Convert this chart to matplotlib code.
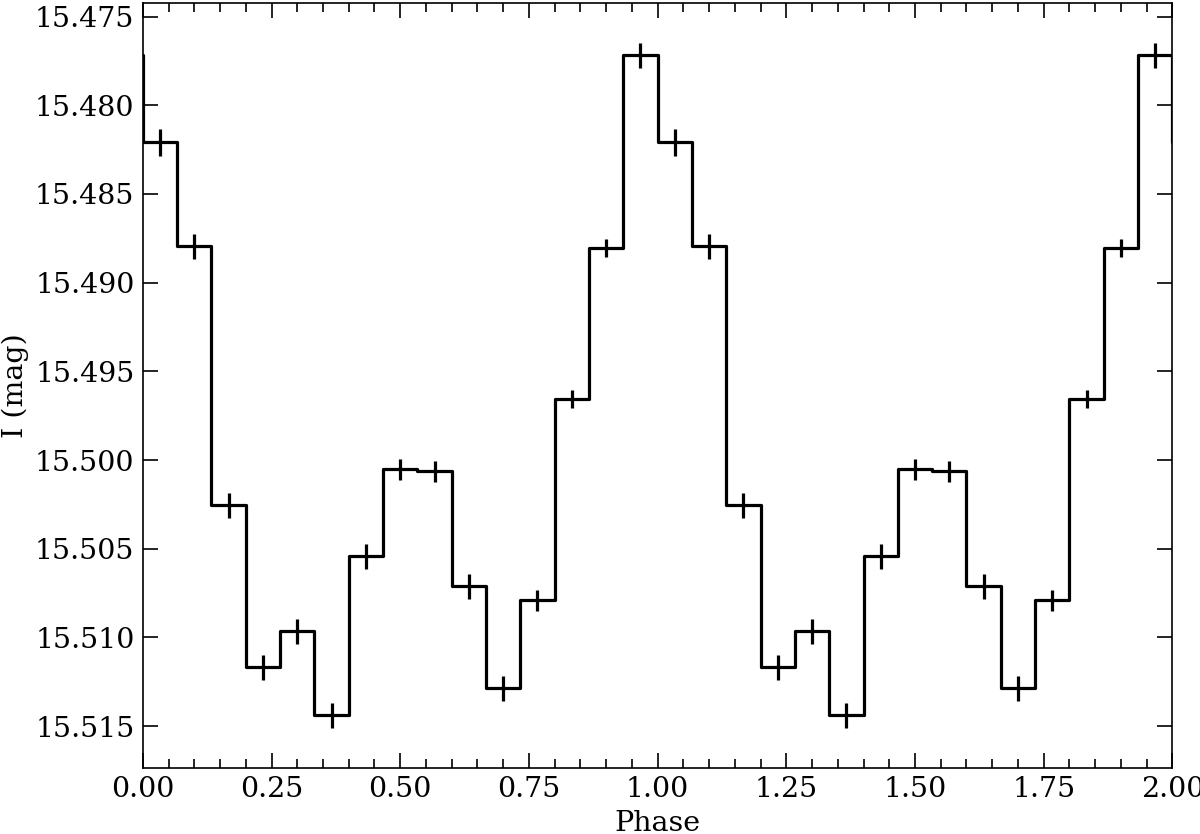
import numpy as np
import matplotlib
matplotlib.use("Agg")
import matplotlib.pyplot as plt
from matplotlib.ticker import MultipleLocator

# Binned light curve (15 phase bins, one cycle)
phase_bins = (np.arange(15) + 0.5) / 15.0
mag = [15.48209, 15.48795, 15.50255, 15.51168, 15.50965, 15.51439, 15.50542,
       15.50052, 15.50063, 15.50711, 15.51286, 15.50790, 15.49657, 15.48806,
       15.47718]
mag_err = [0.00075, 0.0007, 0.0007, 0.0007, 0.0007, 0.0007, 0.0007,
           0.0006, 0.0006, 0.0007, 0.0007, 0.0006, 0.0005, 0.0005, 0.0007]

mag = np.array(mag)
mag_err = np.array(mag_err)

# two cycles plus wrap-around bins for the step edges
x_step = np.concatenate([phase_bins - 1, phase_bins, phase_bins + 1, phase_bins + 2])
y_step = np.concatenate([mag, mag, mag, mag])
x_pts = np.concatenate([phase_bins, phase_bins + 1])
y_pts = np.concatenate([mag, mag])
e_pts = np.concatenate([mag_err, mag_err])

plt.rcParams['font.family'] = ['DejaVu Serif']
plt.rcParams['font.size'] = 20.5

fig = plt.figure(figsize=(12, 8.34), dpi=100)
ax = fig.add_axes([0.119, 0.079, 0.858, 0.917])

ax.step(x_step, y_step, where='mid', color='black', lw=2.3)
ax.errorbar(x_pts, y_pts, yerr=e_pts, fmt='none', ecolor='black', elinewidth=2.3, capsize=0)

ax.set_xlim(0, 2.0)
ax.set_ylim(15.51737, 15.47425)
ax.xaxis.set_major_locator(MultipleLocator(0.25))
ax.xaxis.set_minor_locator(MultipleLocator(0.05))
ax.yaxis.set_major_locator(MultipleLocator(0.005))
ax.xaxis.set_major_formatter(matplotlib.ticker.FormatStrFormatter('%.2f'))
ax.yaxis.set_major_formatter(matplotlib.ticker.FormatStrFormatter('%.3f'))

ax.tick_params(axis='both', which='major', direction='in', length=11, width=1.2,
               top=True, right=True, labelsize=20.5, pad=6)
ax.tick_params(axis='x', which='minor', direction='in', length=6.5, width=1.2, top=True)
for s in ax.spines.values():
    s.set_linewidth(1.2)

ax.set_xlabel('Phase', fontsize=20.5, labelpad=5)
ax.set_ylabel('I (mag)', fontsize=20.5, labelpad=4)

fig.savefig('out.png', dpi=100)
